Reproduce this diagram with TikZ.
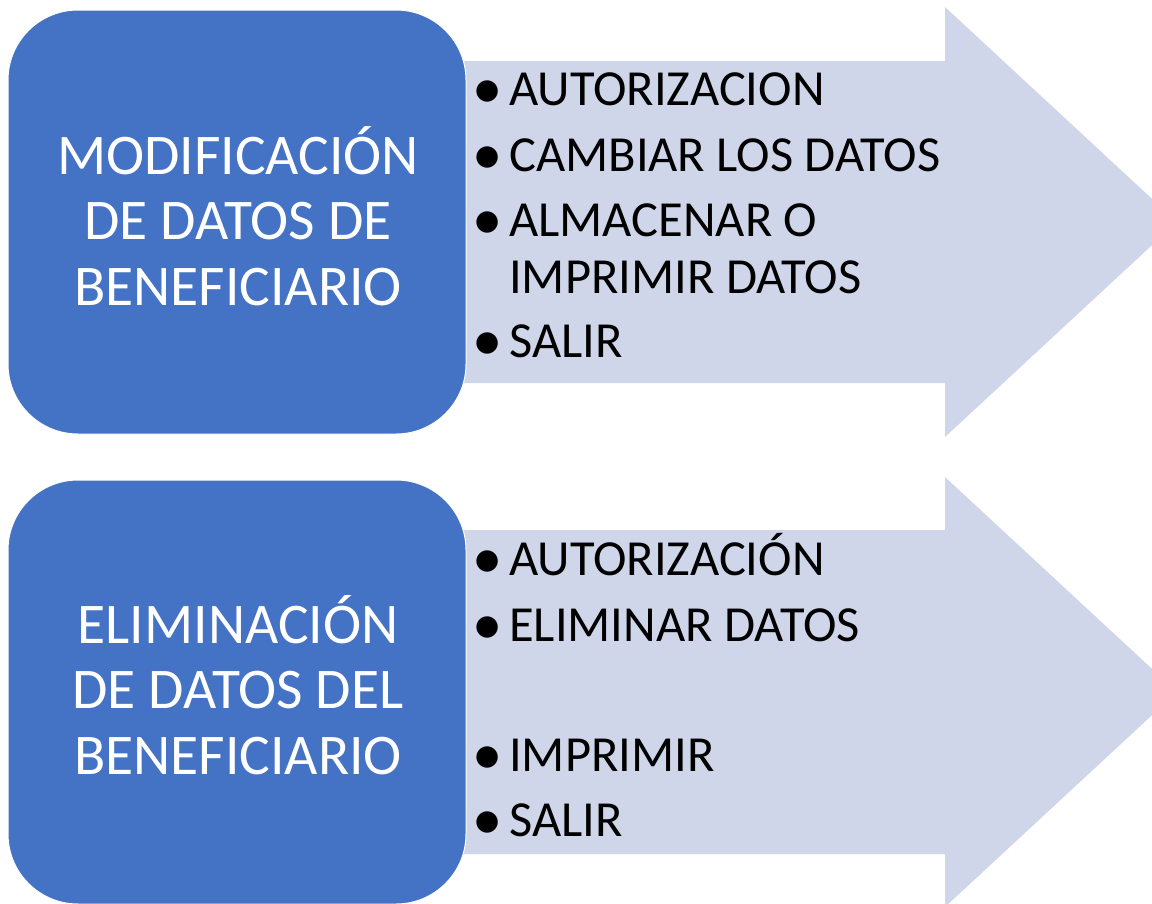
\documentclass[tikz,border=0pt]{standalone}
\usepackage{fontspec}
\setmainfont{Carlito}
\definecolor{boxblue}{HTML}{4472C4}
\definecolor{arrowfill}{HTML}{D0D6EA}
\tikzset{
  bluebox/.style={fill=boxblue, draw=white, line width=1pt, rounded corners=70pt},
  bigarrow/.style={fill=arrowfill, draw=none},
  boxtext/.style={text=white, align=center, anchor=base, inner sep=0pt,
    font=\fontsize{57.5}{65.5}\selectfont},
  item/.style={text=black, anchor=base west, inner sep=0pt,
    font=\fontsize{50.5}{57}\selectfont},
}
\newcommand{\bul}{\makebox[33pt][l]{\hspace{-4pt}\raisebox{-2.5pt}{\scalebox{1.2}{\textbullet}}}}
\begin{document}
\begin{tikzpicture}[x=1pt, y=-1pt]
\clip (0,0) rectangle (1152,903);
\fill[white] (0,0) rectangle (1152,903);
% arrows
\fill[bigarrow] (440,61) -- (945,61) -- (945,7) -- (1177,222) -- (945,437) -- (945,383) -- (440,383) -- cycle;
\fill[bigarrow] (440,530) -- (945,530) -- (945,477) -- (1177,692) -- (945,907) -- (945,854) -- (440,854) -- cycle;
% boxes
\draw[bluebox] (8,10) rectangle (466,434);
\draw[bluebox] (8,480) rectangle (466,904);
\node[boxtext] (t1) at (238,305) {MODIFICACIÓN\\DE DATOS DE\\BENEFICIARIO};
\node[boxtext] (t2) at (238,774) {ELIMINACIÓN\\DE DATOS DEL\\BENEFICIARIO};
% top list
\node[item] (m1) at (476,105.7) {\bul AUTORIZACION};
\node[item] (m2) at (476,171.7) {\bul CAMBIAR LOS DATOS};
\node[item] (m3) at (476,236.7) {\bul ALMACENAR O};
\node[item] (m4) at (476,293.3) {\makebox[33pt][l]{}IMPRIMIR DATOS};
\node[item] (m5) at (476,357.7) {\bul SALIR};
% bottom list
\node[item] (e1) at (476,575.7) {\bul AUTORIZACIÓN};
\node[item] (e2) at (476,641.7) {\bul ELIMINAR DATOS};
\node[item] (e3) at (476,771.7) {\bul IMPRIMIR};
\node[item] (e4) at (476,836.7) {\bul SALIR};
\end{tikzpicture}
\end{document}
